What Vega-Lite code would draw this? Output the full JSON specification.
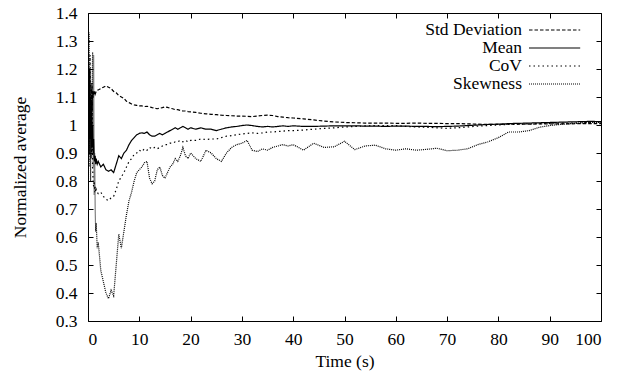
{
 "$schema": "https://vega.github.io/schema/vega-lite/v6.json",
 "width": 513, "height": 308,
 "autosize": "none",
 "padding": {"left": 88, "top": 13, "right": 17, "bottom": 50},
 "background": "white",
 "data": {"values": [
  {"t":0.0,"sd":1.05,"mean":0.95,"cov":0.9,"skew":0.65},
  {"t":0.1,"sd":1.15,"mean":1.1,"cov":1.2,"skew":1.1},
  {"t":0.2,"sd":0.95,"mean":0.9,"cov":0.85,"skew":1.33},
  {"t":0.3,"sd":1.2,"mean":1.18,"cov":1.1,"skew":0.9},
  {"t":0.4,"sd":1.05,"mean":0.95,"cov":1.25,"skew":1.2},
  {"t":0.5,"sd":1.1,"mean":1.05,"cov":0.95,"skew":0.8},
  {"t":0.6,"sd":1.0,"mean":0.88,"cov":1.1,"skew":1.15},
  {"t":0.7,"sd":1.13,"mean":1.08,"cov":0.9,"skew":0.95},
  {"t":0.8,"sd":1.05,"mean":0.92,"cov":1.15,"skew":1.1},
  {"t":0.9,"sd":1.12,"mean":1.0,"cov":0.85,"skew":1.26},
  {"t":1.0,"sd":1.1,"mean":0.9,"cov":0.8,"skew":0.85},
  {"t":1.1,"sd":1.12,"mean":0.95,"cov":0.78,"skew":1.25},
  {"t":1.2,"sd":1.11,"mean":0.88,"cov":0.8,"skew":0.75},
  {"t":1.3,"sd":1.12,"mean":0.87,"cov":0.76,"skew":0.9},
  {"t":1.4,"sd":1.11,"mean":0.89,"cov":0.78,"skew":0.7},
  {"t":1.5,"sd":1.115,"mean":0.86,"cov":0.76,"skew":0.62},
  {"t":1.6,"sd":1.12,"mean":0.88,"cov":0.77,"skew":0.65},
  {"t":1.8,"sd":1.125,"mean":0.86,"cov":0.76,"skew":0.56},
  {"t":2.0,"sd":1.125,"mean":0.87,"cov":0.755,"skew":0.58},
  {"t":2.5,"sd":1.13,"mean":0.85,"cov":0.76,"skew":0.48},
  {"t":3.0,"sd":1.135,"mean":0.86,"cov":0.745,"skew":0.44},
  {"t":3.5,"sd":1.14,"mean":0.84,"cov":0.735,"skew":0.40},
  {"t":4.0,"sd":1.135,"mean":0.835,"cov":0.73,"skew":0.38},
  {"t":4.5,"sd":1.13,"mean":0.84,"cov":0.74,"skew":0.41},
  {"t":5.0,"sd":1.12,"mean":0.83,"cov":0.745,"skew":0.39},
  {"t":5.5,"sd":1.115,"mean":0.86,"cov":0.77,"skew":0.5},
  {"t":6.0,"sd":1.105,"mean":0.89,"cov":0.8,"skew":0.61},
  {"t":6.5,"sd":1.1,"mean":0.88,"cov":0.815,"skew":0.56},
  {"t":7.0,"sd":1.095,"mean":0.9,"cov":0.83,"skew":0.62},
  {"t":7.5,"sd":1.085,"mean":0.91,"cov":0.85,"skew":0.68},
  {"t":8.0,"sd":1.08,"mean":0.93,"cov":0.87,"skew":0.73},
  {"t":8.5,"sd":1.075,"mean":0.945,"cov":0.88,"skew":0.76},
  {"t":9.0,"sd":1.072,"mean":0.955,"cov":0.895,"skew":0.8},
  {"t":9.5,"sd":1.07,"mean":0.965,"cov":0.9,"skew":0.83},
  {"t":10.0,"sd":1.068,"mean":0.97,"cov":0.91,"skew":0.84},
  {"t":10.5,"sd":1.068,"mean":0.972,"cov":0.905,"skew":0.85},
  {"t":11.0,"sd":1.066,"mean":0.97,"cov":0.915,"skew":0.865},
  {"t":11.5,"sd":1.067,"mean":0.975,"cov":0.91,"skew":0.87},
  {"t":12.0,"sd":1.065,"mean":0.965,"cov":0.92,"skew":0.81},
  {"t":12.5,"sd":1.062,"mean":0.96,"cov":0.915,"skew":0.79},
  {"t":13.0,"sd":1.06,"mean":0.96,"cov":0.92,"skew":0.8},
  {"t":13.5,"sd":1.058,"mean":0.965,"cov":0.915,"skew":0.84},
  {"t":14.0,"sd":1.06,"mean":0.97,"cov":0.92,"skew":0.85},
  {"t":14.5,"sd":1.062,"mean":0.965,"cov":0.925,"skew":0.82},
  {"t":15.0,"sd":1.065,"mean":0.97,"cov":0.93,"skew":0.81},
  {"t":15.5,"sd":1.063,"mean":0.975,"cov":0.93,"skew":0.83},
  {"t":16.0,"sd":1.06,"mean":0.98,"cov":0.935,"skew":0.85},
  {"t":16.5,"sd":1.058,"mean":0.985,"cov":0.935,"skew":0.86},
  {"t":17.0,"sd":1.055,"mean":0.99,"cov":0.94,"skew":0.88},
  {"t":17.5,"sd":1.055,"mean":0.985,"cov":0.94,"skew":0.87},
  {"t":18.0,"sd":1.052,"mean":0.99,"cov":0.945,"skew":0.89},
  {"t":18.5,"sd":1.05,"mean":0.995,"cov":0.94,"skew":0.92},
  {"t":19.0,"sd":1.05,"mean":0.99,"cov":0.945,"skew":0.89},
  {"t":19.5,"sd":1.048,"mean":0.985,"cov":0.94,"skew":0.88},
  {"t":20.0,"sd":1.047,"mean":0.99,"cov":0.945,"skew":0.9},
  {"t":21,"sd":1.045,"mean":0.985,"cov":0.945,"skew":0.88},
  {"t":22,"sd":1.042,"mean":0.99,"cov":0.95,"skew":0.87},
  {"t":23,"sd":1.04,"mean":0.985,"cov":0.948,"skew":0.91},
  {"t":24,"sd":1.038,"mean":0.985,"cov":0.95,"skew":0.9},
  {"t":25,"sd":1.037,"mean":0.98,"cov":0.95,"skew":0.88},
  {"t":26,"sd":1.035,"mean":0.985,"cov":0.955,"skew":0.87},
  {"t":27,"sd":1.034,"mean":0.99,"cov":0.96,"skew":0.9},
  {"t":28,"sd":1.033,"mean":0.993,"cov":0.962,"skew":0.92},
  {"t":29,"sd":1.032,"mean":0.995,"cov":0.965,"skew":0.93},
  {"t":30,"sd":1.032,"mean":0.998,"cov":0.968,"skew":0.935},
  {"t":31,"sd":1.031,"mean":1.0,"cov":0.97,"skew":0.945},
  {"t":32,"sd":1.03,"mean":0.998,"cov":0.972,"skew":0.91},
  {"t":33,"sd":1.032,"mean":0.995,"cov":0.97,"skew":0.905},
  {"t":34,"sd":1.034,"mean":0.993,"cov":0.972,"skew":0.915},
  {"t":35,"sd":1.035,"mean":0.995,"cov":0.975,"skew":0.91},
  {"t":36,"sd":1.034,"mean":0.993,"cov":0.975,"skew":0.92},
  {"t":37,"sd":1.03,"mean":0.995,"cov":0.977,"skew":0.925},
  {"t":38,"sd":1.028,"mean":0.997,"cov":0.978,"skew":0.93},
  {"t":39,"sd":1.026,"mean":0.995,"cov":0.98,"skew":0.925},
  {"t":40,"sd":1.025,"mean":0.997,"cov":0.98,"skew":0.93},
  {"t":42,"sd":1.022,"mean":0.995,"cov":0.982,"skew":0.91},
  {"t":44,"sd":1.018,"mean":0.995,"cov":0.985,"skew":0.935},
  {"t":46,"sd":1.014,"mean":0.996,"cov":0.988,"skew":0.92},
  {"t":48,"sd":1.011,"mean":0.997,"cov":0.99,"skew":0.922},
  {"t":50,"sd":1.009,"mean":0.997,"cov":0.993,"skew":0.942},
  {"t":52,"sd":1.008,"mean":0.997,"cov":0.995,"skew":0.912},
  {"t":54,"sd":1.007,"mean":0.996,"cov":0.997,"skew":0.925},
  {"t":56,"sd":1.007,"mean":0.996,"cov":0.998,"skew":0.928},
  {"t":58,"sd":1.007,"mean":0.995,"cov":0.998,"skew":0.915},
  {"t":60,"sd":1.006,"mean":0.996,"cov":0.998,"skew":0.91},
  {"t":62,"sd":1.006,"mean":0.996,"cov":0.995,"skew":0.915},
  {"t":64,"sd":1.007,"mean":0.995,"cov":0.993,"skew":0.91},
  {"t":66,"sd":1.006,"mean":0.995,"cov":0.992,"skew":0.913},
  {"t":68,"sd":1.006,"mean":0.994,"cov":0.99,"skew":0.917},
  {"t":70,"sd":1.005,"mean":0.995,"cov":0.988,"skew":0.908},
  {"t":72,"sd":1.005,"mean":0.996,"cov":0.99,"skew":0.91},
  {"t":74,"sd":1.004,"mean":0.998,"cov":0.993,"skew":0.915},
  {"t":76,"sd":1.003,"mean":1.0,"cov":0.996,"skew":0.93},
  {"t":78,"sd":1.002,"mean":1.002,"cov":0.998,"skew":0.94},
  {"t":80,"sd":1.002,"mean":1.003,"cov":1.0,"skew":0.955},
  {"t":82,"sd":1.003,"mean":1.005,"cov":1.002,"skew":0.975},
  {"t":84,"sd":1.003,"mean":1.006,"cov":1.003,"skew":0.975},
  {"t":86,"sd":1.003,"mean":1.007,"cov":1.004,"skew":0.98},
  {"t":88,"sd":1.004,"mean":1.008,"cov":1.005,"skew":0.992},
  {"t":90,"sd":1.004,"mean":1.009,"cov":1.006,"skew":0.998},
  {"t":92,"sd":1.004,"mean":1.01,"cov":1.007,"skew":1.002},
  {"t":94,"sd":1.004,"mean":1.011,"cov":1.007,"skew":1.005},
  {"t":96,"sd":1.005,"mean":1.012,"cov":1.008,"skew":1.007},
  {"t":98,"sd":1.005,"mean":1.013,"cov":1.009,"skew":1.009},
  {"t":100,"sd":1.005,"mean":1.012,"cov":1.01,"skew":1.01}
 ]},
 "transform": [{"fold": ["sd","mean","cov","skew"], "as": ["series","v"]}],
 "layer": [
  {
   "mark": {"type": "line", "color": "black", "strokeWidth": 1.2, "clip": true},
   "encoding": {
    "x": {"field": "t", "type": "quantitative", "scale": {"domain": [0,100], "nice": false},
          "axis": {"orient": "bottom", "values": [0,10,20,30,40,50,60,70,80,90,100], "title": "Time (s)", "tickSize": -5, "labelPadding": 14, "titlePadding": 5}},
    "y": {"field": "v", "type": "quantitative", "scale": {"domain": [0.3,1.4], "nice": false, "zero": false},
          "axis": {"orient": "left", "values": [0.3,0.4,0.5,0.6,0.7,0.8,0.9,1.0,1.1,1.2,1.3,1.4], "format": ".1~f", "title": "Normalized average", "tickSize": -5, "labelPadding": 16, "titlePadding": 26}},
    "strokeDash": {"field": "series", "type": "nominal",
          "scale": {"domain": ["sd","mean","cov","skew"], "range": [[3.5,2],[1,0],[1.5,3],[1,1]]},
          "legend": {"title": null, "orient": "none", "legendX": 457.6, "legendY": 8,
                     "symbolType": "M-3.2,0H3.2", "symbolSize": 256, "symbolStrokeWidth": 1.2, "symbolStrokeColor": "black", "symbolFillColor": "transparent", "symbolOpacity": 1,
                     "labelAlign": "right", "labelOffset": -41.6, "rowPadding": 0,
                     "labelExpr": "datum.label == 'sd' ? 'Std Deviation' : datum.label == 'mean' ? 'Mean' : datum.label == 'cov' ? 'CoV' : 'Skewness'"}}
   }
  },
  {
   "mark": {"type": "point", "opacity": 0},
   "encoding": {
    "x": {"field": "t", "type": "quantitative", "axis": {"orient": "top", "values": [0,10,20,30,40,50,60,70,80,90,100], "labels": false, "title": null, "tickSize": -5}},
    "y": {"field": "v", "type": "quantitative", "axis": {"orient": "right", "values": [0.3,0.4,0.5,0.6,0.7,0.8,0.9,1.0,1.1,1.2,1.3,1.4], "labels": false, "title": null, "tickSize": -5}}
   }
  }
 ],
 "resolve": {"axis": {"x": "independent", "y": "independent"}},
 "config": {
  "font": "Liberation Serif",
  "view": {"stroke": "black", "strokeWidth": 1},
  "axis": {"domain": false, "grid": false, "ticks": true, "tickColor": "black", "tickWidth": 1,
           "labelFont": "Liberation Serif", "labelFontSize": 17.5, "labelColor": "black",
           "titleFont": "Liberation Serif", "titleFontSize": 17.5, "titleFontWeight": "normal", "titleColor": "black"},
  "axisY": {"labelAlign": "right"},
  "legend": {"labelFont": "Liberation Serif", "labelFontSize": 17.5,
             "labelColor": "black", "labelLimit": 0, "padding": 0}
 }
}
